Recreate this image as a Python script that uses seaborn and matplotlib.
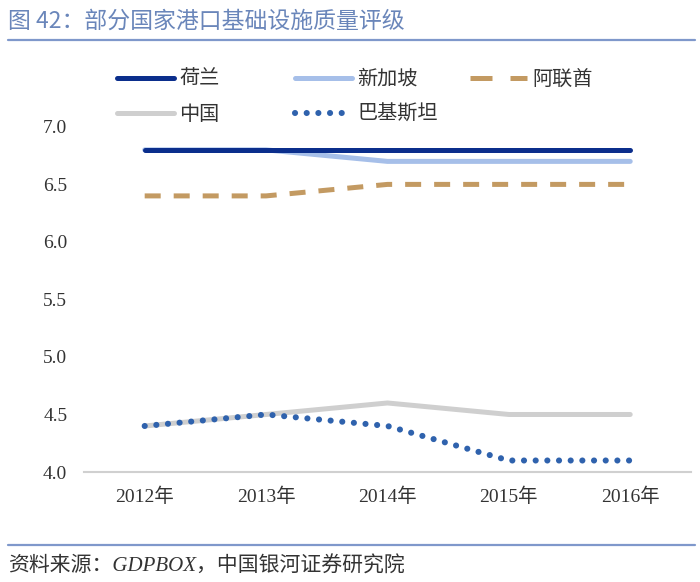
import matplotlib
matplotlib.use("Agg")
import matplotlib.pyplot as plt
import seaborn as sns
import pandas as pd
from matplotlib.lines import Line2D

years = ["2012年", "2013年", "2014年", "2015年", "2016年"]
netherlands = [6.8, 6.8, 6.8, 6.8, 6.8]
singapore = [6.8, 6.8, 6.7, 6.7, 6.7]
uae = [6.4, 6.4, 6.5, 6.5, 6.5]
china = [4.4, 4.5, 4.6, 4.5, 4.5]
pakistan = [4.4, 4.5, 4.4, 4.1, 4.1]
series_names = ["荷兰", "新加坡", "阿联酋", "中国", "巴基斯坦"]
yticks = [4.0, 4.5, 5.0, 5.5, 6.0, 6.5, 7.0]

sns.set_theme(style="white")
plt.rcParams['font.family'] = ['Liberation Serif', 'Noto Sans CJK SC', 'DejaVu Sans']

fig = plt.figure(figsize=(7, 5.82), dpi=100)
ax = fig.add_axes([0.12, 0.189, 0.867, 0.593])

values = [netherlands, singapore, uae, china, pakistan]
colors = ["#0b2e8c", "#a6bfe9", "#c39a62", "#cfcfcf", "#2f62ad"]
styles = [
    dict(linestyle="-", lw=3.6),
    dict(linestyle="-", lw=3.6),
    dict(linestyle=(0, (3.2, 2.6)), lw=3.6),
    dict(linestyle="-", lw=3.6),
    dict(linestyle=(0, (0.01, 1.9)), lw=4.4),
]
legend_styles = [
    dict(linestyle="-", lw=3.6),
    dict(linestyle="-", lw=3.6),
    dict(linestyle=(0, (4.4, 3.6)), lw=3.6),
    dict(linestyle="-", lw=3.6),
    dict(linestyle=(0, (0.01, 1.9)), lw=4.4),
]
zorders = [3, 2, 2, 2, 4]

xpos = list(range(len(years)))
handles = []
for name, vals, c, st, lst, z in zip(series_names, values, colors, styles,
                                     legend_styles, zorders):
    df = pd.DataFrame({"x": xpos, "y": vals})
    sns.lineplot(data=df, x="x", y="y", ax=ax, color=c, zorder=z, **st)
    ax.lines[-1].set_dash_capstyle("round" if name == "巴基斯坦" else "butt")
    h = Line2D([], [], color=c, **lst)
    h.set_dash_capstyle("round" if name == "巴基斯坦" else "butt")
    handles.append(h)

ax.set_xlim(-0.5, 4.5)
ax.set_ylim(4.0, 7.0)
ax.set_xticks(xpos)
ax.set_xticklabels(years)
ax.set_yticks(yticks)
ax.set_yticklabels([f"{v:.1f}" for v in yticks])
ax.set_xlabel("")
ax.set_ylabel("")
for s in ["top", "right", "left"]:
    ax.spines[s].set_visible(False)
ax.spines["bottom"].set_color("#d0d0d0")
ax.spines["bottom"].set_linewidth(1.5)
ax.tick_params(axis="both", length=0, labelsize=14, colors="#333333")
ax.tick_params(axis="x", pad=11)
ax.tick_params(axis="y", pad=12)

legend_cols = [([0, 3], 0.167), ([1, 4], 0.421), ([2], 0.671)]
for idxs, xloc in legend_cols:
    leg = fig.legend([handles[i] for i in idxs], [series_names[i] for i in idxs],
                     loc="upper left", bbox_to_anchor=(xloc, 0.882),
                     frameon=False, handlelength=2.85, borderpad=0, borderaxespad=0,
                     handletextpad=0.25, labelspacing=0.7,
                     prop={'family': ['Noto Sans CJK SC'], 'size': 14.5})
    for t in leg.get_texts():
        t.set_color("#333333")

fig.text(0.012, 0.963, "图 42：部分国家港口基础设施质量评级", fontsize=16.5,
         color="#6a86ba", family=['Noto Sans CJK SC'], va="center", ha="left")
fig.add_artist(Line2D([0.011, 0.993], [0.931, 0.931], color="#7f98cb", lw=1.6,
                      transform=fig.transFigure))
fig.add_artist(Line2D([0.011, 0.993], [0.063, 0.063], color="#7f98cb", lw=1.6,
                      transform=fig.transFigure))
fig.text(0.012, 0.027, "资料来源：GDPBOX，中国银河证券研究院", fontsize=15,
         color="#333333", style="italic",
         family=['Liberation Serif', 'Noto Sans CJK SC'],
         va="center", ha="left")

fig.savefig("out.png", dpi=100)
